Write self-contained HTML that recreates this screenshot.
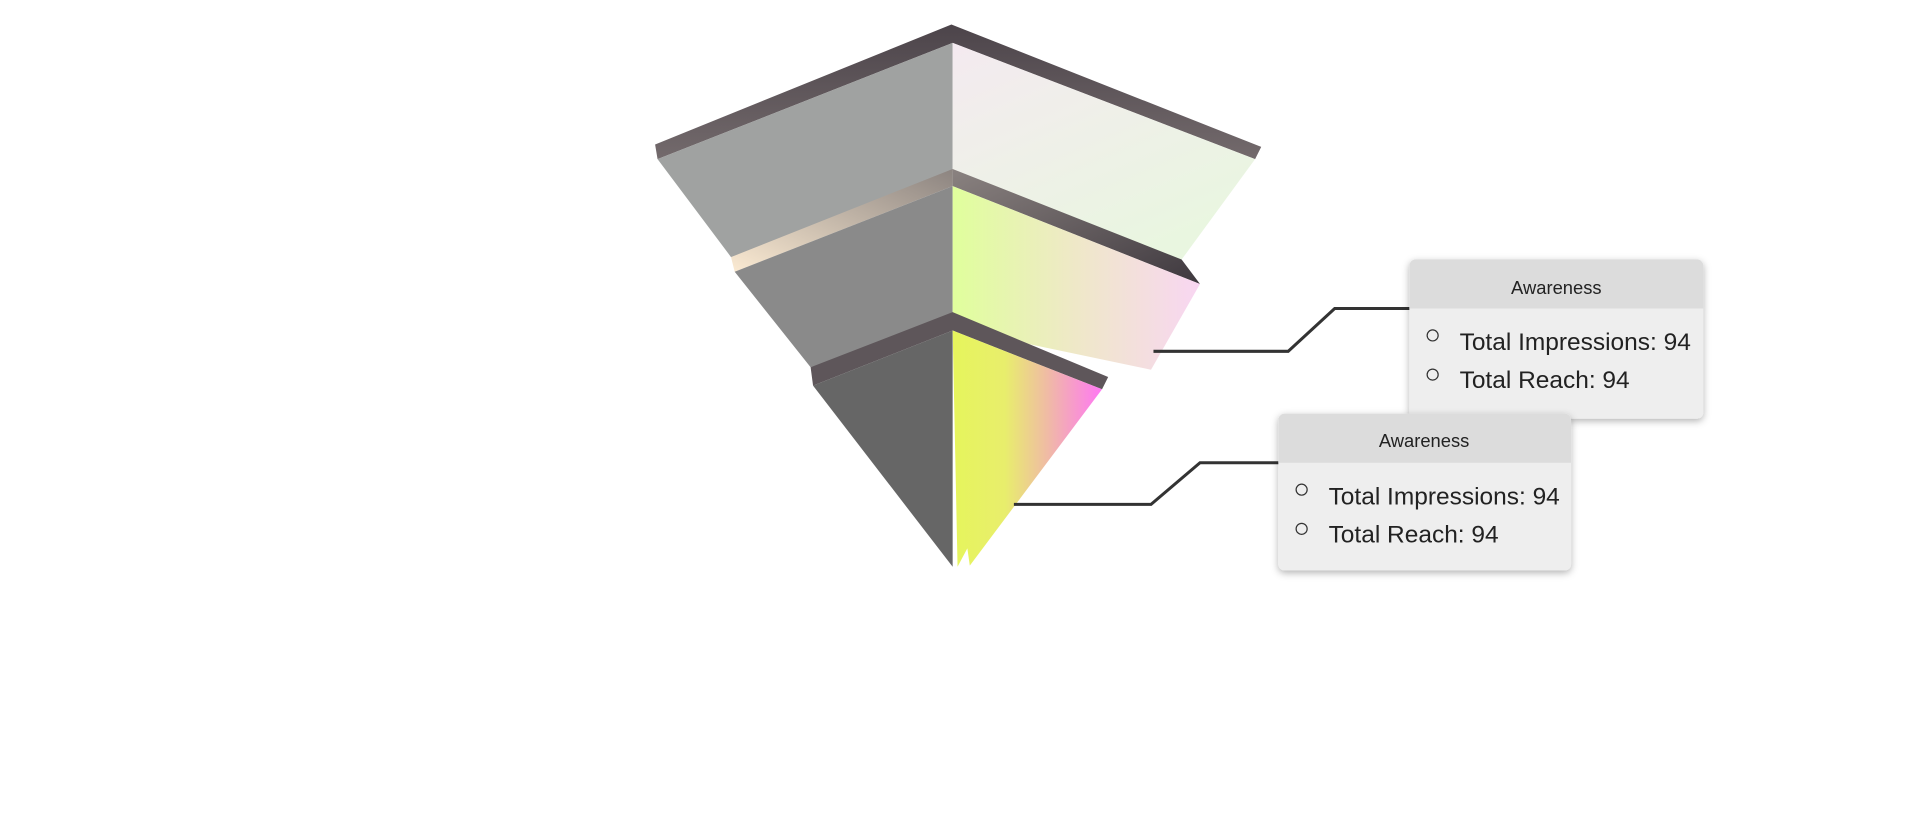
<!DOCTYPE html>
<html><head><meta charset="utf-8"><style>
html,body{margin:0;padding:0;background:#fff;width:1920px;height:830px;overflow:hidden}
svg{display:block}
text{font-family:"Liberation Sans",sans-serif;fill:#222}
</style></head><body>
<svg width="1920" height="830" viewBox="0 0 1568 678" preserveAspectRatio="none">
<defs>
<linearGradient id="g1" x1="0" y1="0" x2="0.6" y2="1"><stop offset="0" stop-color="#f4eaf0"/><stop offset="1" stop-color="#e9f6e0"/></linearGradient>
<linearGradient id="g2" x1="0" y1="0" x2="1" y2="0"><stop offset="0" stop-color="#e0ff9c"/><stop offset="0.5" stop-color="#efe8c8"/><stop offset="1" stop-color="#f8d6f2"/></linearGradient>
<linearGradient id="g3" x1="0" y1="0" x2="1" y2="0"><stop offset="0" stop-color="#e6f55c"/><stop offset="0.35" stop-color="#e8ee6c"/><stop offset="0.65" stop-color="#f0b8a8"/><stop offset="1" stop-color="#ff78f4"/></linearGradient>
<linearGradient id="rimL2" x1="0" y1="1" x2="1" y2="0"><stop offset="0" stop-color="#fbead2"/><stop offset="1" stop-color="#8c8480"/></linearGradient>
<linearGradient id="rimR2" x1="0" y1="0" x2="1" y2="1"><stop offset="0" stop-color="#8a8280"/><stop offset="1" stop-color="#3e383e"/></linearGradient>
<linearGradient id="rim1" x1="0" y1="0" x2="0" y2="1"><stop offset="0" stop-color="#4c444a"/><stop offset="1" stop-color="#736a6c"/></linearGradient>
<filter id="sh" x="-10%" y="-10%" width="120%" height="130%"><feDropShadow dx="0" dy="2" stdDeviation="3" flood-color="#000" flood-opacity="0.3"/></filter>
</defs>
<g>
<polygon points="535,118 777,20 1030,120 1025,130 778,35 537,130" fill="url(#rim1)"/>
<polygon points="537,130 778,35 778,150 597,210" fill="#a0a2a1"/>
<polygon points="778,35 1025,130 965,212 778,150" fill="url(#g1)"/>
</g>
<g>
<polygon points="597,210 778,138 778,152 600,222" fill="url(#rimL2)"/>
<polygon points="778,138 965,212 980,232 778,152" fill="url(#rimR2)"/>
<polygon points="600,222 778,152 778,268 662,300" fill="#8a8a8a"/>
<polygon points="778,152 980,232 940,302 778,268" fill="url(#g2)"/>
</g>
<g>
<polygon points="662,300 778,255 905,308 900,318 778,270 664,315" fill="#5e565a"/>
<polygon points="664,315 778,270 778,463" fill="#666"/>
<polygon points="778,270 900,318 792,462 790,448 782,463" fill="url(#g3)"/>
</g>
<polyline points="942,287 1052,287 1090,252 1152,252" fill="none" stroke="#333" stroke-width="2.5"/>
<polyline points="828,412 940,412 980,378 1045,378" fill="none" stroke="#333" stroke-width="2.5"/>
<g filter="url(#sh)">
<rect x="1151" y="212" width="240" height="130" rx="5" fill="#eee"/>
<path d="M1151,252 V217 a5,5 0 0 1 5,-5 H1386 a5,5 0 0 1 5,5 V252 Z" fill="#dcdcdc"/>
</g>
<text x="1271" y="240" text-anchor="middle" font-size="15">Awareness</text>
<circle cx="1170" cy="274" r="4.5" fill="none" stroke="#333"/>
<text x="1192" y="286" font-size="20">Total Impressions: 94</text>
<circle cx="1170" cy="306" r="4.5" fill="none" stroke="#333"/>
<text x="1192" y="317" font-size="20">Total Reach: 94</text>
<g filter="url(#sh)">
<rect x="1044" y="338" width="239" height="128" rx="5" fill="#eee"/>
<path d="M1044,378 V343 a5,5 0 0 1 5,-5 H1278 a5,5 0 0 1 5,5 V378 Z" fill="#dcdcdc"/>
</g>
<text x="1163" y="365" text-anchor="middle" font-size="15">Awareness</text>
<circle cx="1063" cy="400" r="4.5" fill="none" stroke="#333"/>
<text x="1085" y="412" font-size="20">Total Impressions: 94</text>
<circle cx="1063" cy="432" r="4.5" fill="none" stroke="#333"/>
<text x="1085" y="443" font-size="20">Total Reach: 94</text>
</svg>
</body></html>
